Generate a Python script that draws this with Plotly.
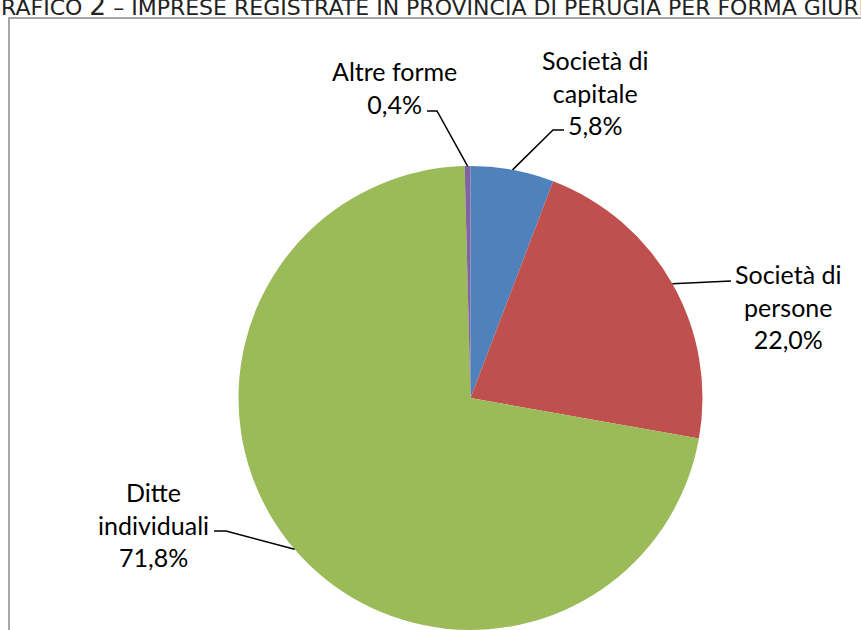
import itertools
import numpy as np
import plotly.graph_objects as go

W, H = 861, 630

labels = ["Società di<br>capitale", "Società di<br>persone", "Ditte<br>individuali", "Altre forme"]
values = [5.8, 22.0, 71.8, 0.4]
colors = ["#4F81BD", "#C0504D", "#9BBB59", "#8064A2"]
title_text = "Grafico 2 – Imprese registrate in provincia di Perugia per forma giuridica"

# pie geometry in pixels
cx, cy, r = 470.5, 398, 232

# label block centres and leader elbows (pixels)
label_pos = [(595, 92), (788, 306), (153, 524), (394, 88)]
elbows = [[(553, 130), (564, 130)],
          [(731, 281)],
          [(226, 531), (214, 531)],
          [(437, 111), (427, 111)]]


def px(x):
    return x / W


def py(y):
    return 1 - y / H


def small_caps(s, big=26.5):
    # letters in small caps, digits full size
    out = ""
    for dig, grp in itertools.groupby(s.upper(), key=str.isdigit):
        chunk = "".join(grp)
        if dig:
            out += f"<span style='font-size:{big}px'>{chunk}</span>"
        else:
            out += chunk
    return out


fig = go.Figure(go.Pie(
    values=values,
    labels=labels,
    sort=False,
    direction="clockwise",
    rotation=0,
    marker=dict(colors=colors, line=dict(width=0)),
    textinfo="none",
    showlegend=False,
    domain=dict(x=[px(cx - r), px(cx + r)], y=[py(cy + r), py(cy - r)]),
))

# leader lines start at the mid angle of each slice
cum = np.cumsum([0] + values)
tot = cum[-1]
for i, v in enumerate(values):
    ang = np.radians((cum[i] + v / 2) / tot * 360)
    pts = [(cx + r * np.sin(ang), cy - r * np.cos(ang))] + elbows[i]
    path = "M " + " L ".join(f"{px(a)},{py(b)}" for a, b in pts)
    fig.add_shape(type="path", path=path, xref="paper", yref="paper",
                  line=dict(color="black", width=1.5))
    txt = labels[i] + "<br>" + f"{v:.1f}".replace(".", ",") + "%"
    fig.add_annotation(x=px(label_pos[i][0]), y=py(label_pos[i][1]),
                       xref="paper", yref="paper", text=txt, showarrow=False,
                       align="center", xanchor="center", yanchor="middle",
                       font=dict(family="Lato", size=25, color="black"))

# chart frame (runs off the right and bottom of the page)
fig.add_shape(type="rect", xref="paper", yref="paper",
              x0=px(9), y0=py(18), x1=1.2, y1=-0.2,
              line=dict(color="#8a8a8a", width=1.5), fillcolor="rgba(0,0,0,0)")

fig.add_annotation(x=px(-18), y=py(23), xref="paper", yref="paper",
                   text=small_caps(title_text), showarrow=False,
                   xanchor="left", yanchor="bottom",
                   font=dict(family="DejaVu Sans", size=22, color="#222"))

fig.update_layout(width=W, height=H, margin=dict(l=0, r=0, t=0, b=0),
                  paper_bgcolor="white", plot_bgcolor="white")
fig.write_html("out.html", config={"displayModeBar": False},
               post_script="document.body.style.margin='0';")
